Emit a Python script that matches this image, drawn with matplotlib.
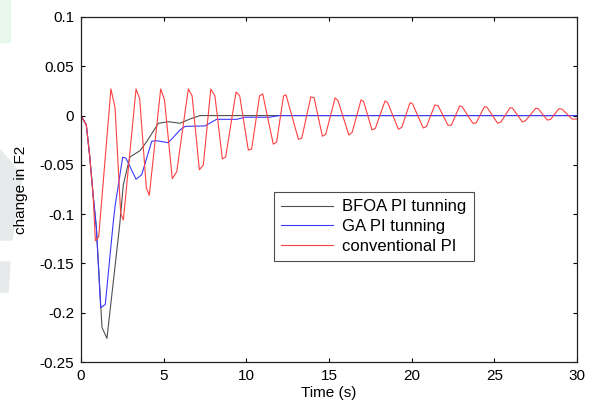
import matplotlib
matplotlib.use("Agg")
import matplotlib.pyplot as plt
from matplotlib.patches import Polygon, Rectangle

plt.rcParams['font.family'] = ['Liberation Sans', 'DejaVu Sans']

# ---- data ----
bfoa_t = [0, 0.32, 0.52, 0.73, 0.93, 1.27, 1.57, 2.34, 2.56, 2.96, 3.57, 3.97,
          4.68, 5.28, 5.99, 6.59, 7.2, 30]
bfoa_v = [0, -0.0095, -0.040, -0.080, -0.114, -0.215, -0.226, -0.111, -0.070,
          -0.042, -0.0356, -0.0265, -0.0078, -0.0062, -0.0078, -0.0035, 0.0, 0.0]

ga_t = [0, 0.32, 0.52, 0.73, 0.93, 1.19, 1.47, 1.94, 2.06, 2.52, 2.72, 3.33,
        3.67, 4.28, 4.58, 5.28, 5.99, 6.29, 7.5, 8.2, 9.42, 9.92, 11.4, 12.0, 30]
ga_v = [0, -0.0095, -0.040, -0.080, -0.114, -0.195, -0.1915, -0.110, -0.092,
        -0.0423, -0.0433, -0.0646, -0.060, -0.026, -0.0255, -0.0275, -0.0146,
        -0.011, -0.0105, -0.0038, -0.0038, -0.0017, -0.0017, 0.0, 0.0]

conv_t = [0, 0.32, 0.52, 0.73, 0.87, 1.07, 1.81, 2.06, 2.40, 2.56, 3.33, 3.55,
          3.95, 4.13, 4.82, 5.05, 5.52, 5.79, 6.49, 6.72, 7.16, 7.40, 7.85, 8.10,
          8.55, 8.75, 9.38, 9.60, 10.12, 10.32, 10.80, 10.99, 11.63, 11.83, 12.25,
          12.40, 13.15, 13.35, 13.9, 14.1, 14.6, 14.8, 15.37, 15.55, 16.2, 16.4,
          16.94, 17.1, 17.6, 17.8, 18.39, 18.55, 19.2, 19.4, 19.9, 20.05, 20.7,
          20.9, 21.4, 21.6, 22.2, 22.4, 22.9, 23.05, 23.7, 23.9, 24.4, 24.55,
          25.2, 25.4, 25.95, 26.1, 26.7, 26.9, 27.5, 27.65, 28.2, 28.4, 28.9,
          29.1, 29.7, 30]
conv_v = [0, -0.0095, -0.040, -0.080, -0.127, -0.123, 0.027, 0.008, -0.099,
          -0.106, 0.027, 0.017, -0.073, -0.081, 0.027, 0.016, -0.064, -0.057,
          0.027, 0.020, -0.055, -0.050, 0.027, 0.020, -0.044, -0.042, 0.024,
          0.020, -0.035, -0.034, 0.020, 0.022, -0.029, -0.027, 0.020, 0.021,
          -0.024, -0.023, 0.019, 0.018, -0.021, -0.019, 0.018, 0.015, -0.0197,
          -0.017, 0.016, 0.014, -0.0146, -0.013, 0.0148, 0.013, -0.0139, -0.012,
          0.013, 0.012, -0.0126, -0.011, 0.0107, 0.010, -0.0099, -0.0098, 0.0097,
          0.009, -0.0078, -0.0075, 0.009, 0.0085, -0.0078, -0.0065, 0.008,
          0.0075, -0.0065, -0.005, 0.0074, 0.007, -0.0045, -0.004, 0.007, 0.0065,
          -0.0035, -0.0035]

labels = ['BFOA PI tunning', 'GA PI tunning', 'conventional PI']
xticks = [0, 5, 10, 15, 20, 25, 30]
yticks = [-0.25, -0.2, -0.15, -0.1, -0.05, 0, 0.05, 0.1]
ytick_labels = ['-0.25', '-0.2', '-0.15', '-0.1', '-0.05', '0', '0.05', '0.1']

# ---- figure ----
fig = plt.figure(figsize=(6.0, 4.07), dpi=100)

# faint watermark fragments on the left edge (behind everything)
wm = [
    Rectangle((0, 1 - 42 / 407), 10 / 600, 42 / 407, color='#e8f8ec'),
    Polygon([(0, 1 - 150 / 407), (22 / 600, 1 - 175 / 407),
             (12 / 600, 1 - 240 / 407), (0, 1 - 240 / 407)], closed=True,
            color='#e6eaea'),
    Polygon([(0, 1 - 262 / 407), (10 / 600, 1 - 262 / 407),
             (8 / 600, 1 - 292 / 407), (0, 1 - 292 / 407)], closed=True,
            color='#e6eaea'),
]
for p in wm:
    p.set_transform(fig.transFigure)
    p.set_zorder(-10)
    fig.patches.append(p)

ax = fig.add_axes([81 / 600, 45 / 407, 496 / 600, 345 / 407])
ax.set_zorder(1)
ax.patch.set_alpha(0)

ax.plot(bfoa_t, bfoa_v, color='#505050', lw=0.8, label=labels[0])
ax.plot(ga_t, ga_v, color='#3a3aff', lw=0.8, label=labels[1])
ax.plot(conv_t, conv_v, color='#ff4040', lw=0.8, label=labels[2])

ax.set_xlim(0, 30)
ax.set_ylim(-0.25, 0.1)
ax.set_xticks(xticks)
ax.set_xticklabels([str(x) for x in xticks])
ax.set_yticks(yticks)
ax.set_yticklabels(ytick_labels)
ax.tick_params(direction='in', length=3, width=0.8, top=True, right=True,
               labelsize=11, pad=5)
for s in ax.spines.values():
    s.set_linewidth(0.9)
    s.set_color('#222222')

ax.set_xlabel('Time (s)', fontsize=11, labelpad=2)
ax.set_ylabel('change in F2', fontsize=11, labelpad=8)

leg = ax.legend(loc='upper left', bbox_to_anchor=(0.389, 0.493), fontsize=12,
                frameon=True, fancybox=False, handlelength=3.1,
                borderpad=0.45, labelspacing=0.28, handletextpad=0.55,
                borderaxespad=0)
leg.get_frame().set_edgecolor('#222222')
leg.get_frame().set_linewidth(0.8)

fig.savefig('out.png', dpi=100)
